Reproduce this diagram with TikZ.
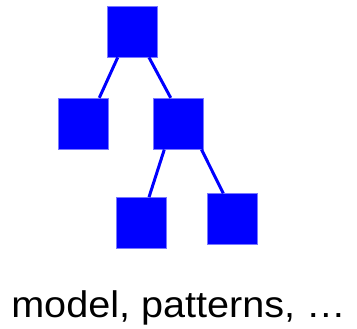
\documentclass[tikz,border=0pt]{standalone}
\usepackage{fontspec}
\setmainfont{Liberation Sans}
\definecolor{boxblue}{RGB}{0,0,255}
\definecolor{edgeblue}{RGB}{120,120,255}
\begin{document}
\begin{tikzpicture}[x=1pt,y=-1pt,
  sq/.style={rectangle, fill=boxblue, draw=edgeblue, line width=0.7pt, inner sep=0pt, minimum width=50pt, minimum height=51pt, anchor=center},
  link/.style={draw=boxblue, line width=3pt},
  lbl/.style={font=\fontsize{37}{40}\selectfont, inner sep=0pt, anchor=base, xscale=1.07, transform shape}]
\useasboundingbox (0,0) rectangle (357,329);
\node[sq] (top) at (132,31.6) {};
\node[sq] (L) at (83.8,123.7) {};
\node[sq] (R) at (178,123.7) {};
\node[sq] (BL) at (141.5,223) {};
\node[sq] (BR) at (232,219.2) {};
\draw[link] ([xshift=-14.3pt]top.south) -- ([xshift=15.5pt]L.north);
\draw[link] ([xshift=17pt]top.south) -- ([xshift=-7.3pt]R.north);
\draw[link] ([xshift=-13.7pt]R.south) -- ([xshift=7.5pt]BL.north);
\draw[link] ([xshift=23.5pt]R.south) -- ([xshift=-8.7pt]BR.north);
\node[lbl] (cap) at (178.5,317.5) {model, patterns, …};
\end{tikzpicture}
\end{document}
